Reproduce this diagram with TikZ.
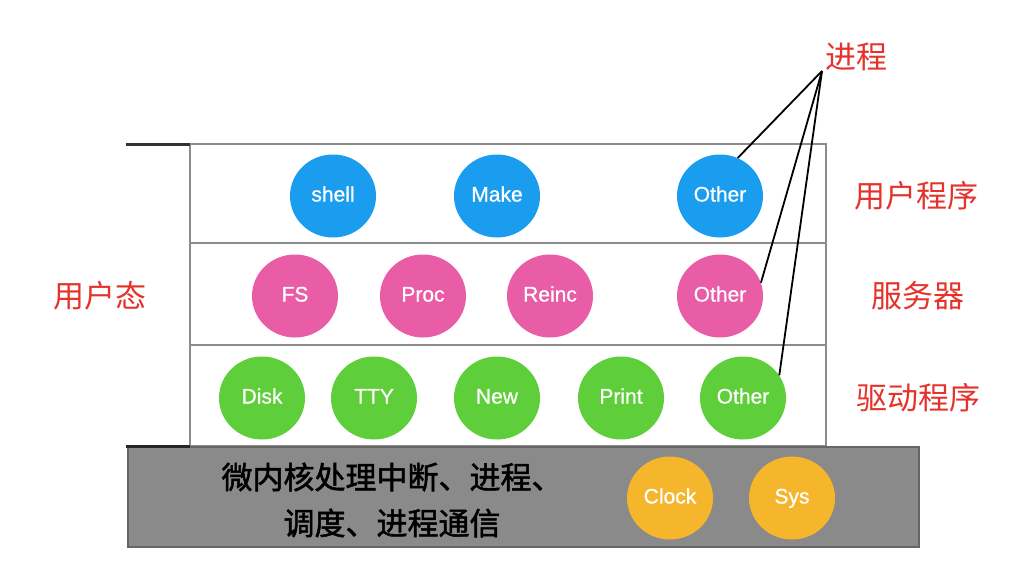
\documentclass[tikz,border=0pt]{standalone}
\usepackage{fontspec}
\setmainfont{Liberation Sans}
\newfontfamily\cjk{Noto Sans CJK SC}
\newfontfamily\cjkbold[FakeBold=1.6]{Noto Sans CJK SC}
\newfontfamily\lblfont[FakeBold=0.8]{Liberation Sans}
\usetikzlibrary{shapes.geometric}
\definecolor{userblue}{HTML}{1A9DEF}
\definecolor{servpink}{HTML}{E95CA6}
\definecolor{drvgreen}{HTML}{5ECE3A}
\definecolor{clkorange}{HTML}{F6B62B}
\definecolor{tagred}{HTML}{E5322B}
\definecolor{kgray}{HTML}{8A8A8A}
\begin{document}
\begin{tikzpicture}[x=1pt,y=-1pt,
    proc/.style={ellipse, minimum width=86pt, minimum height=83pt, inner sep=0pt,
      text=white, text height=15pt, text depth=4pt,
      font=\lblfont\fontsize{21}{21}\selectfont},
    layer/.style={draw=black!45, line width=1.6pt},
    tag/.style={text=tagred, font=\cjk\fontsize{31}{31}\selectfont}]
    \useasboundingbox (0,0) rectangle (1024,578);

    \draw[layer] (190,144) rectangle (826,446);
    \draw[layer] (190,243) -- (826,243);
    \draw[layer] (190,345) -- (826,345);
    \draw[line width=3pt, black!80] (126,144) -- (190,144);

    \filldraw[fill=kgray, draw=black!60, line width=1.4pt] (128,447) rectangle (919,547);
    \draw[line width=3pt, black!85] (126,446) -- (190,446);

    \node[proc, fill=userblue] (Shell) at (333,196) {shell};
    \node[proc, fill=userblue] (Make) at (497,196) {Make};
    \node[proc, fill=userblue] (OtherU) at (720,196) {Other};

    \node[proc, fill=servpink] (FS) at (295,296) {FS};
    \node[proc, fill=servpink] (Proc) at (423,296) {Proc};
    \node[proc, fill=servpink] (Reinc) at (550,296) {Reinc};
    \node[proc, fill=servpink] (OtherS) at (720,296) {Other};

    \node[proc, fill=drvgreen] (Disk) at (262,398) {Disk};
    \node[proc, fill=drvgreen] (TTY) at (374,398) {TTY};
    \node[proc, fill=drvgreen] (New) at (497,398) {New};
    \node[proc, fill=drvgreen] (Print) at (621,398) {Print};
    \node[proc, fill=drvgreen] (OtherD) at (743,398) {Other};

    \node[proc, fill=clkorange] (Clock) at (670,498) {Clock};
    \node[proc, fill=clkorange] (Sys) at (792,498) {Sys};

    \node[align=center, font=\cjkbold\fontsize{31}{46}\selectfont] (Kernel) at (392,500)
      {微内核处理中断、进程、\\调度、进程通信};

    \node[tag] (Jincheng) at (856,57) {进程};
    \node[tag] (UserProg) at (916,196) {用户程序};
    \node[tag] (Server) at (918,296) {服务器};
    \node[tag] (Driver) at (918,398) {驱动程序};
    \node[tag] (UserMode) at (100,296) {用户态};

    \coordinate (Apex) at (822,71);
    \draw[line width=1.8pt] (Apex) -- (OtherU.65);
    \draw[line width=1.8pt] (Apex) -- (OtherS.18);
    \draw[line width=1.8pt] (Apex) -- (OtherD.32);

\end{tikzpicture}
\end{document}
